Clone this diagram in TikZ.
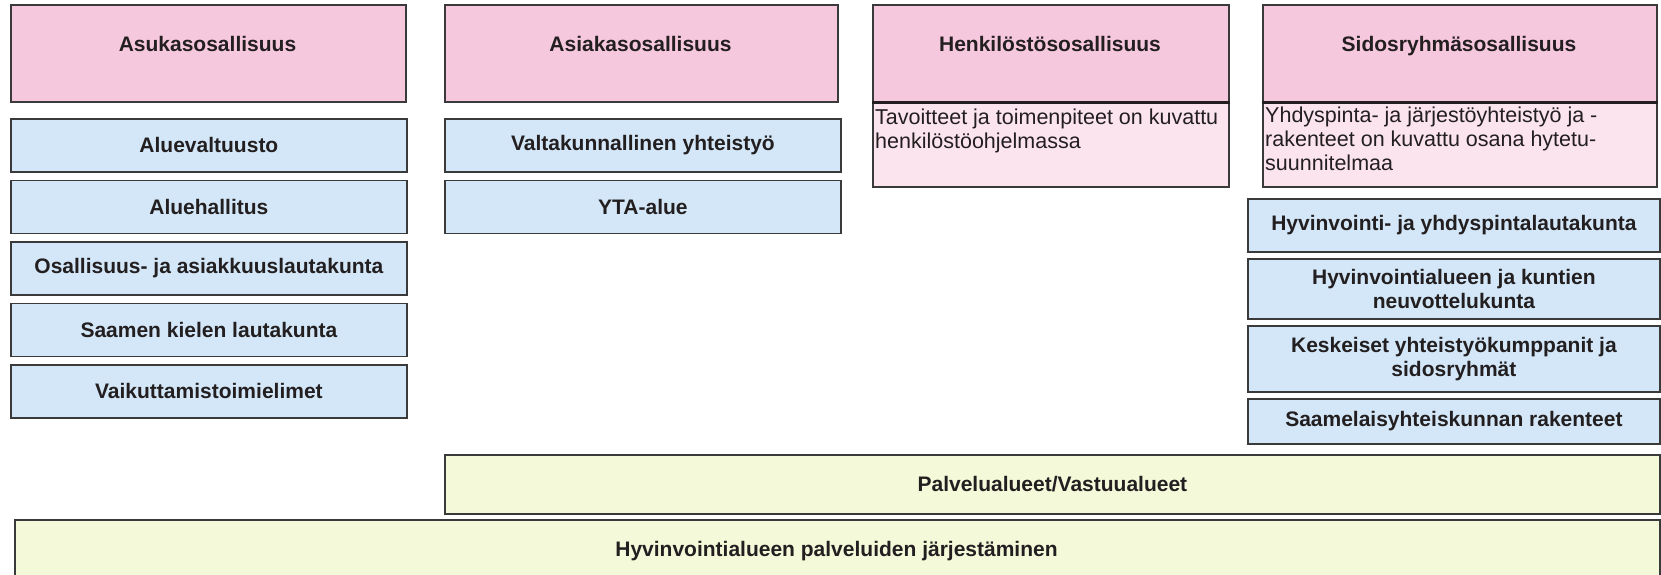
\documentclass[tikz,border=0pt]{standalone}
\usepackage{fontspec}
\setmainfont{Liberation Sans}
\definecolor{edge}{HTML}{3A3A3A}
\definecolor{ink}{HTML}{231F20}
\definecolor{pinkA}{HTML}{F6C8DD}
\definecolor{pinkB}{HTML}{FBE4EE}
\definecolor{blueA}{HTML}{D3E7F8}
\definecolor{greenA}{HTML}{F3F9D9}
\begin{document}
\begin{tikzpicture}[x=1pt,y=-1pt,
  frame/.style={draw=edge, line width=1.8pt, inner sep=2pt, anchor=north west},
  headbox/.style={frame, fill=pinkA},
  notebox/.style={frame, fill=pinkB},
  bluebox/.style={frame, fill=blueA, text=ink, align=center,
    font=\bfseries\fontsize{21}{24}\selectfont},
  greenbox/.style={frame, fill=greenA, text=ink, align=center,
    font=\bfseries\fontsize{21}{24}\selectfont},
  htext/.style={text=ink, inner sep=0pt, anchor=base, font=\bfseries\fontsize{21}{24}\selectfont},
  ntext/.style={text=ink, inner sep=0pt, anchor=north west, align=left,
    font=\fontsize{21.5}{24}\selectfont},
  sep/.style={draw=ink, line width=3pt}
]
\useasboundingbox (0,0) rectangle (1661,575);
\clip (0,0) rectangle (1661,575);

% ---------- column 1 ----------
\node[headbox, minimum width=395pt, minimum height=97pt] (h1) at (10,4) {};
\node[htext] (h1t) at (207.5,52) {Asukasosallisuus};
\node[bluebox, minimum width=396pt, minimum height=53pt] (a1) at (10,118) {Aluevaltuusto};
\node[bluebox, minimum width=396pt, minimum height=53pt] (a2) at (10,179.5) {Aluehallitus};
\node[bluebox, minimum width=396pt, minimum height=53pt] (a3) at (10,241) {Osallisuus- ja asiakkuuslautakunta};
\node[bluebox, minimum width=396pt, minimum height=53pt] (a4) at (10,302.5) {Saamen kielen lautakunta};
\node[bluebox, minimum width=396pt, minimum height=53pt] (a5) at (10,364) {Vaikuttamistoimielimet};

% ---------- column 2 ----------
\node[headbox, minimum width=393pt, minimum height=97pt] (h2) at (444,4) {};
\node[htext] (h2t) at (640.5,52) {Asiakasosallisuus};
\node[bluebox, minimum width=396pt, minimum height=53pt] (c1) at (444,118) {Valtakunnallinen yhteistyö};
\node[bluebox, minimum width=396pt, minimum height=53pt] (c2) at (444,179.5) {YTA-alue};

% ---------- column 3 ----------
\node[notebox, minimum width=356pt, minimum height=182pt] (n3) at (872,4) {};
\node[headbox, minimum width=356pt, minimum height=97pt] (h3) at (872,4) {};
\draw[sep] (h3.south west) -- (h3.south east);
\node[htext] (h3t) at (1050,52) {Henkilöstösosallisuus};
\node[ntext] (n3t) at (875,109) {Tavoitteet ja toimenpiteet on kuvattu\\henkilöstöohjelmassa};

% ---------- column 4 ----------
\node[notebox, minimum width=394pt, minimum height=182pt] (n4) at (1262,4) {};
\node[headbox, minimum width=394pt, minimum height=97pt] (h4) at (1262,4) {};
\draw[sep] (h4.south west) -- (h4.south east);
\node[htext] (h4t) at (1459,52) {Sidosryhmäsosallisuus};
\node[ntext] (n4t) at (1265,107) {Yhdyspinta- ja järjestöyhteistyö ja -\\rakenteet on kuvattu osana hytetu-\\suunnitelmaa};
\node[bluebox, minimum width=412pt, minimum height=53pt] (s1) at (1247,198) {Hyvinvointi- ja yhdyspintalautakunta};
\node[bluebox, minimum width=412pt, minimum height=60pt] (s2) at (1247,258) {Hyvinvointialueen ja kuntien\\neuvottelukunta};
\node[bluebox, minimum width=412pt, minimum height=66pt] (s3) at (1247,325) {Keskeiset yhteistyökumppanit ja\\sidosryhmät};
\node[bluebox, minimum width=412pt, minimum height=45pt] (s4) at (1247,398) {Saamelaisyhteiskunnan rakenteet};

% ---------- bottom ----------
\node[greenbox, minimum width=1215pt, minimum height=59pt] (g1) at (444,454) {Palvelualueet/Vastuualueet};
\node[greenbox, minimum width=1645pt, minimum height=90pt] (g2) at (14,519) {};
\node[htext] (g2t) at (836.5,556) {Hyvinvointialueen palveluiden järjestäminen};
\end{tikzpicture}
\end{document}
